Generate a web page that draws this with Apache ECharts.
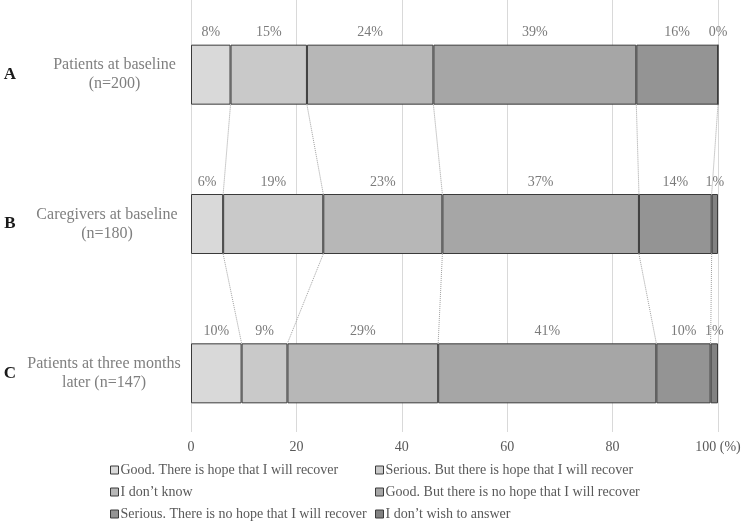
<!DOCTYPE html>
<html>
<head>
<meta charset="utf-8">
<script src="https://cdn.jsdelivr.net/npm/echarts@6/dist/echarts.min.js"></script>
<style>
html,body{margin:0;padding:0;background:#fff;}
#chart{width:750px;height:522px;}
</style>
</head>
<body>
<div id="chart"></div>
<script>
// ---- data ----
const categories = ['Patients at baseline\n(n=200)', 'Caregivers at baseline\n(n=180)', 'Patients at three months\nlater (n=147)'];
const letters = ['A', 'B', 'C'];
const seriesNames = [
  'Good. There is hope that I will recover',
  'Serious. But there is hope that I will recover',
  'I don\u2019t know',
  'Good. But there is no hope that I will recover',
  'Serious. There is no hope that I will recover',
  'I don\u2019t wish to answer'
];
const goodHope      = [7.5, 6.1, 9.6];
const seriousHope   = [14.5, 19.0, 8.7];
const dontKnow      = [24.0, 22.6, 28.6];
const goodNoHope    = [38.5, 37.3, 41.4];
const seriousNoHope = [15.5, 13.8, 10.3];
const noAnswer      = [0.0, 1.2, 1.4];
const xTicks = [0, 20, 40, 60, 80, 100];

// ---- styling / layout ----
const values = [goodHope, seriousHope, dontKnow, goodNoHope, seriousNoHope, noAnswer];
const colors = ['#d9d9d9', '#c9c9c9', '#b7b7b7', '#a6a6a6', '#949494', '#828282'];
// which data labels have a small leader line (series x category)
const leaderLines = [[1, 0, 0], [1, 0, 1], [0, 0, 1], [1, 0, 1], [0, 0, 0], [0, 0, 0]];
const serif = 'Liberation Serif';
const gridLeft = 191, gridRight = 32, gridTop = 0, gridHeight = 448;
const barPx = 60;
const half = (barPx / 2) / (gridHeight / categories.length);
const labelBoxW = [125, 140, 146];   // width of the centred text box for each category label

const barSeries = values.map((arr, i) => ({
  name: seriesNames[i],
  type: 'bar',
  stack: 'total',
  xAxisIndex: 0,
  yAxisIndex: 0,
  barWidth: barPx,
  data: arr.map((v, ci) => ({
    value: v,
    labelLine: { show: !!leaderLines[i][ci], lineStyle: { color: '#a6a6a6', width: 1 } }
  })),
  itemStyle: { color: colors[i], borderColor: '#3a3a3a', borderWidth: 1 },
  label: {
    show: true,
    position: 'top',
    distance: 5,
    formatter: p => Math.round(p.value) + '%',
    fontFamily: serif,
    fontSize: 14,
    color: '#7a7a7a'
  },
  emphasis: { disabled: true },
  z: 3
}));

// cumulative boundaries for connector lines
const cum = categories.map((c, ci) => {
  let s = 0;
  return values.map(arr => (s += arr[ci]));
});
const connectorSeries = [];
for (let ci = 0; ci < categories.length - 1; ci++) {
  for (let k = 0; k < 5; k++) {
    connectorSeries.push({
      type: 'line',
      xAxisIndex: 2,
      yAxisIndex: 3,
      data: [[cum[ci][k], ci + 0.5 + half], [cum[ci + 1][k], ci + 1.5 - half]],
      symbol: 'none',
      silent: true,
      lineStyle: { color: '#a0a0a0', width: 1, type: 'dotted' },
      z: 1
    });
  }
}

const catRich = {};
labelBoxW.forEach((w, i) => {
  catRich['c' + i] = { width: w, align: 'center', fontFamily: serif, fontSize: 16, color: '#7f7f7f', lineHeight: 19 };
});

const legendText = { fontFamily: serif, fontSize: 14, color: '#595959', lineHeight: 16, padding: [0, 0, 0, -3] };

const option = {
  animation: false,
  backgroundColor: '#ffffff',
  grid: [
    { left: gridLeft, right: gridRight, top: gridTop, height: gridHeight },
    { left: gridLeft, right: gridRight, top: 0, height: 432 },
    { left: gridLeft, right: gridRight, top: gridTop, height: gridHeight }
  ],
  xAxis: [
    { gridIndex: 0, type: 'value', min: 0, max: 100, show: false },
    {
      gridIndex: 1, type: 'value', min: xTicks[0], max: xTicks[xTicks.length - 1], interval: xTicks[1] - xTicks[0],
      axisLine: { show: false }, axisTick: { show: false },
      splitLine: { show: true, lineStyle: { color: '#d9d9d9', width: 1 } },
      axisLabel: {
        fontFamily: serif, fontSize: 14, color: '#595959', margin: 8,
        formatter: v => (v === 100 ? '100 (%)' : String(v))
      }
    },
    { gridIndex: 2, type: 'value', min: 0, max: 100, show: false }
  ],
  yAxis: [
    {
      gridIndex: 0, type: 'category', data: categories, inverse: true, position: 'left',
      axisLine: { show: false }, axisTick: { show: false },
      axisLabel: {
        align: 'right', margin: 14, fontFamily: serif, fontSize: 16, color: '#7f7f7f', lineHeight: 19,
        formatter: (v, idx) => v.split('\n').map(line => '{c' + idx + '|' + line + '}').join('\n'),
        rich: catRich
      }
    },
    {
      gridIndex: 0, type: 'category', data: letters, inverse: true, position: 'left',
      axisLine: { show: false }, axisTick: { show: false },
      axisLabel: { fontFamily: serif, fontSize: 17, fontWeight: 'bold', color: '#1a1a1a', align: 'center', margin: 181 }
    },
    { gridIndex: 1, type: 'value', show: false, min: 0, max: 1 },
    { gridIndex: 2, type: 'value', show: false, min: 0, max: categories.length, inverse: true }
  ],
  legend: [
    {
      data: [seriesNames[0], seriesNames[2], seriesNames[4]],
      orient: 'vertical', left: 105, top: 457, height: 80, width: 260, itemGap: 6,
      icon: 'rect', itemWidth: 8, itemHeight: 8,
      itemStyle: { borderColor: '#3a3a3a', borderWidth: 1 },
      textStyle: legendText, selectedMode: false
    },
    {
      data: [seriesNames[1], seriesNames[3], seriesNames[5]],
      orient: 'vertical', left: 370, top: 457, height: 80, width: 280, itemGap: 6,
      icon: 'rect', itemWidth: 8, itemHeight: 8,
      itemStyle: { borderColor: '#3a3a3a', borderWidth: 1 },
      textStyle: legendText, selectedMode: false
    }
  ],
  series: barSeries.concat(connectorSeries)
};

const chart = echarts.init(document.getElementById('chart'), null, { renderer: 'canvas' });
chart.setOption(option);
</script>
</body>
</html>
